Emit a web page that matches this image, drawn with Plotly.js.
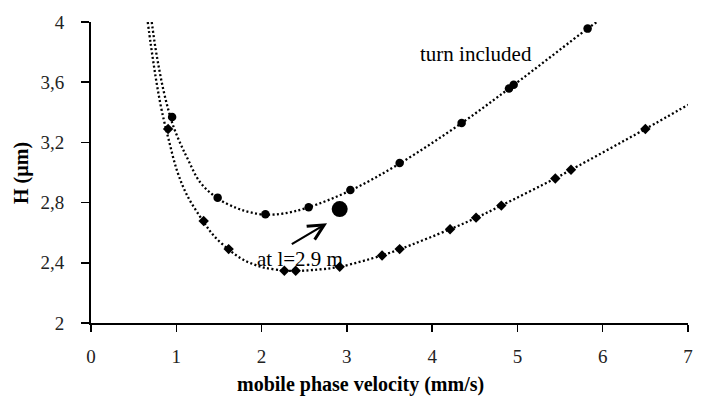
<!DOCTYPE html>
<html><head><meta charset="utf-8">
<script src="https://cdn.plot.ly/plotly-3.0.1.min.js"></script>
<style>html,body{margin:0;padding:0;background:#fff}#chart{width:727px;height:404px}</style>
</head><body><div id="chart"></div>
<script>
// measured points, "turn included" (circles)
const turnX = [0.951, 1.485, 2.045, 2.552, 3.041, 3.619, 4.346, 4.901, 4.956, 5.823];
const turnY = [3.369, 2.833, 2.723, 2.769, 2.883, 3.063, 3.329, 3.558, 3.583, 3.956];
// measured points, "within channel track" (diamonds)
const chanX = [0.904, 1.321, 1.614, 2.267, 2.400, 2.916, 3.413, 3.619, 4.210, 4.515, 4.811, 5.444, 5.628, 6.500];
const chanY = [3.289, 2.678, 2.491, 2.347, 2.347, 2.373, 2.449, 2.491, 2.623, 2.700, 2.780, 2.960, 3.018, 3.289];
// highlighted point at l = 2.9 m
const bigX = [2.916];
const bigY = [2.757];
// trend curves
const turnFitX = [0.712, 0.755, 0.80, 0.85, 0.91, 0.97, 1.05, 1.13, 1.28, 1.48, 1.71, 1.87, 2.05, 2.26, 2.53, 3.04, 3.62, 4.35, 4.93, 5.82, 5.93];
const turnFitY = [4.0, 3.83, 3.685, 3.545, 3.41, 3.30, 3.19, 3.095, 2.935, 2.83, 2.763, 2.735, 2.72, 2.728, 2.765, 2.88, 3.06, 3.33, 3.57, 3.955, 4.0];
const chanFitX = [0.665, 0.70, 0.74, 0.78, 0.83, 0.91, 1.01, 1.13, 1.32, 1.44, 1.61, 1.75, 1.87, 2.03, 2.27, 2.40, 2.60, 2.92, 3.41, 3.62, 4.21, 4.52, 4.81, 5.44, 5.63, 6.50, 7.0];
const chanFitY = [4.0, 3.855, 3.70, 3.56, 3.41, 3.22, 3.01, 2.845, 2.672, 2.58, 2.49, 2.432, 2.398, 2.368, 2.349, 2.346, 2.352, 2.374, 2.449, 2.49, 2.623, 2.70, 2.78, 2.96, 3.018, 3.289, 3.45];
const xTicks = [0, 1, 2, 3, 4, 5, 6, 7];
const yTicks = [2, 2.4, 2.8, 3.2, 3.6, 4];
const yTickText = ['2', '2,4', '2,8', '3,2', '3,6', '4'];

const F = 'Liberation Serif, Times New Roman, serif';
const dotLine = {color: '#000', width: 2.3, dash: '2px,2.4px', shape: 'spline', smoothing: 1};

const traces = [
  {x: turnFitX, y: turnFitY, mode: 'lines', line: dotLine, hoverinfo: 'skip'},
  {x: chanFitX, y: chanFitY, mode: 'lines', line: dotLine, hoverinfo: 'skip'},
  {x: turnX, y: turnY, mode: 'markers', marker: {symbol: 'circle', size: 8.5, color: '#000'}},
  {x: chanX, y: chanY, mode: 'markers', marker: {symbol: 'diamond', size: 8, color: '#000'}},
  {x: bigX, y: bigY, mode: 'markers', marker: {symbol: 'circle', size: 16, color: '#000'}}
];

const layout = {
  width: 727, height: 404,
  margin: {l: 91, r: 39, t: 22, b: 81},
  paper_bgcolor: '#fff', plot_bgcolor: '#fff',
  showlegend: false,
  font: {family: F, size: 19, color: '#000'},
  xaxis: {
    range: [0, 7], tickvals: xTicks, ticktext: xTicks.map(String),
    showgrid: false, zeroline: false, showline: true, linecolor: '#000', linewidth: 2,
    ticks: 'outside', ticklen: 7, tickwidth: 1.5, tickcolor: '#000',
    tickfont: {family: F, size: 19, color: '#222'}, ticklabelstandoff: 8
  },
  yaxis: {
    range: [2, 4], tickvals: yTicks, ticktext: yTickText,
    showgrid: false, zeroline: false, showline: true, linecolor: '#000', linewidth: 2,
    ticks: 'outside', ticklen: 8, tickwidth: 1.5, tickcolor: '#000',
    tickfont: {family: F, size: 19, color: '#222'}, ticklabelstandoff: 13
  },
  annotations: [
    {text: '<b>mobile phase velocity (mm/s)</b>', xref: 'paper', yref: 'paper', x: 0.451, y: -0.205,
     xanchor: 'center', yanchor: 'middle', showarrow: false, font: {family: F, size: 20, color: '#000'}},
    {text: '<b>H (µm)</b>', xref: 'paper', yref: 'paper', x: -0.1154, y: 0.4987, textangle: -90,
     xanchor: 'center', yanchor: 'middle', showarrow: false, font: {family: F, size: 20, color: '#000'}},
    {text: 'turn included', x: 4.51, y: 3.785, xanchor: 'center', yanchor: 'middle', showarrow: false,
     font: {family: F, size: 21, color: '#000'}},
    {text: 'within channel track', x: 7.41, y: 2.665, xanchor: 'right', yanchor: 'middle', showarrow: false,
     font: {family: F, size: 21, color: '#000'}},
    {text: 'at l=2.9 m', x: 2.455, y: 2.425, xanchor: 'center', yanchor: 'middle', showarrow: false,
     font: {family: F, size: 21, color: '#000'}},
    {text: '', x: 2.768, y: 2.663, ax: 2.337, ay: 2.518, axref: 'x', ayref: 'y',
     showarrow: true, arrowhead: 5, arrowsize: 1.4, arrowwidth: 2.2, arrowcolor: '#000', standoff: 0}
  ]
};

Plotly.newPlot('chart', traces, layout, {displayModeBar: false, staticPlot: true});
</script>
</body></html>
